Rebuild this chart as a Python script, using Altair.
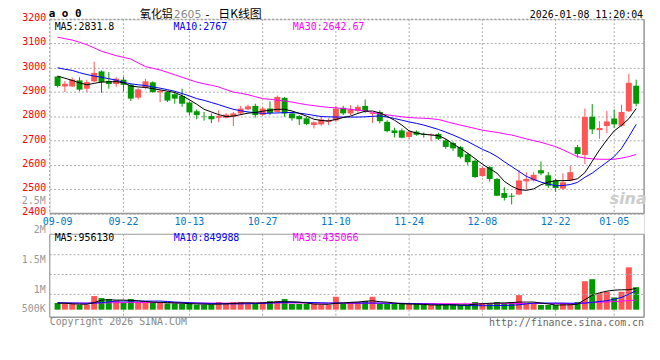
import altair as alt
import pandas as pd

dates = ["09-09","09-10","09-11","09-12","09-15","09-16","09-17","09-18","09-19","09-22","09-23","09-24","09-25","09-26","09-29","09-30",
         "10-09","10-10","10-13","10-14","10-15","10-16","10-17","10-20","10-21","10-22","10-23","10-24","10-27","10-28","10-29","10-30","10-31",
         "11-03","11-04","11-05","11-06","11-07","11-10","11-11","11-12","11-13","11-14","11-17","11-18","11-19","11-20","11-21","11-24","11-25","11-26","11-27","11-28",
         "12-01","12-02","12-03","12-04","12-05","12-08","12-09","12-10","12-11","12-12","12-15","12-16","12-17","12-18","12-19","12-22","12-23","12-24","12-25","12-26","12-29","12-30","12-31",
         "01-05","01-06","01-07","01-08"]

open_ = [2964, 2923, 2923, 2948, 2914, 2944, 2985, 2946, 2933, 2951,
         2930, 2877, 2918, 2940, 2899, 2900, 2891, 2884, 2857, 2821,
         2801, 2801, 2794, 2794, 2798, 2812, 2829, 2843, 2806, 2832,
         2818, 2876, 2812, 2801, 2792, 2764, 2767, 2777, 2783, 2835,
         2812, 2822, 2843, 2810, 2818, 2777, 2742, 2742, 2715, 2737,
         2728, 2723, 2727, 2701, 2690, 2673, 2644, 2617, 2554, 2591,
         2542, 2484, 2473, 2478, 2532, 2536, 2578, 2557, 2536, 2502,
         2536, 2673, 2641, 2798, 2743, 2760, 2791, 2761, 2821, 2926]
close = [2925, 2934, 2951, 2910, 2941, 2979, 2941, 2933, 2955, 2930,
         2873, 2911, 2944, 2900, 2905, 2865, 2873, 2852, 2816, 2805,
         2800, 2788, 2801, 2807, 2812, 2832, 2841, 2805, 2832, 2814,
         2880, 2812, 2792, 2788, 2768, 2775, 2787, 2783, 2832, 2812,
         2829, 2839, 2821, 2814, 2780, 2739, 2731, 2712, 2737, 2724,
         2723, 2726, 2707, 2674, 2668, 2633, 2611, 2550, 2587, 2542,
         2473, 2464, 2469, 2536, 2542, 2559, 2565, 2514, 2505, 2528,
         2570, 2645, 2797, 2746, 2752, 2779, 2767, 2818, 2938, 2852]
high = [2966, 2946, 2960, 2961, 2951, 3025, 2989, 2982, 2961, 2963,
        2934, 2916, 2955, 2944, 2908, 2904, 2900, 2914, 2862, 2829,
        2818, 2812, 2825, 2814, 2818, 2843, 2848, 2852, 2839, 2862,
        2886, 2880, 2818, 2805, 2798, 2780, 2798, 2791, 2843, 2843,
        2846, 2848, 2869, 2815, 2825, 2784, 2753, 2750, 2743, 2742,
        2734, 2730, 2732, 2707, 2696, 2678, 2650, 2622, 2593, 2596,
        2546, 2508, 2484, 2578, 2570, 2570, 2614, 2570, 2542, 2565,
        2595, 2682, 2832, 2851, 2780, 2822, 2828, 2848, 2975, 2951]
low = [2919, 2900, 2920, 2903, 2900, 2941, 2897, 2914, 2921, 2903,
       2863, 2869, 2911, 2897, 2858, 2859, 2852, 2839, 2805, 2788,
       2782, 2772, 2776, 2791, 2760, 2805, 2825, 2795, 2802, 2805,
       2816, 2798, 2782, 2764, 2764, 2750, 2761, 2764, 2777, 2805,
       2805, 2812, 2814, 2773, 2771, 2734, 2713, 2709, 2707, 2720,
       2712, 2698, 2702, 2666, 2657, 2626, 2600, 2546, 2551, 2531,
       2471, 2453, 2437, 2475, 2498, 2532, 2557, 2505, 2489, 2498,
       2532, 2630, 2603, 2727, 2707, 2730, 2753, 2757, 2818, 2841]

ma5 = [2966, 2957, 2948, 2938, 2930, 2936, 2941, 2942, 2943, 2938,
       2925, 2921, 2919, 2914, 2909, 2904, 2898, 2885, 2868, 2850,
       2829, 2818, 2807, 2799, 2801, 2807, 2813, 2816, 2821, 2825,
       2829, 2829, 2822, 2812, 2801, 2788, 2783, 2781, 2787, 2795,
       2801, 2812, 2821, 2822, 2814, 2800, 2784, 2764, 2740, 2731,
       2726, 2723, 2720, 2707, 2686, 2668, 2648, 2626, 2603, 2584,
       2566, 2532, 2512, 2498, 2495, 2501, 2518, 2529, 2535, 2535,
       2536, 2543, 2568, 2615, 2662, 2703, 2740, 2763, 2790, 2832]
ma10 = [3000, 2994, 2989, 2980, 2972, 2966, 2961, 2955, 2949, 2940,
        2934, 2930, 2927, 2921, 2916, 2910, 2903, 2894, 2884, 2873,
        2866, 2857, 2848, 2838, 2829, 2823, 2818, 2815, 2812, 2813,
        2814, 2815, 2816, 2813, 2809, 2804, 2799, 2798, 2797, 2797,
        2797, 2797, 2798, 2800, 2802, 2797, 2791, 2784, 2777, 2771,
        2764, 2755, 2746, 2735, 2723, 2710, 2696, 2680, 2664, 2651,
        2634, 2613, 2593, 2573, 2553, 2540, 2529, 2521, 2514, 2515,
        2519, 2528, 2549, 2566, 2589, 2611, 2634, 2668, 2716, 2767]
ma30 = [3126, 3120, 3114, 3105, 3095, 3082, 3068, 3059, 3050, 3043,
        3036, 3020, 3005, 2998, 2991, 2981, 2971, 2961, 2951, 2941,
        2934, 2928, 2921, 2910, 2900, 2895, 2889, 2881, 2873, 2870,
        2867, 2863, 2859, 2853, 2848, 2844, 2840, 2837, 2835, 2832,
        2829, 2826, 2822, 2816, 2810, 2806, 2802, 2798, 2795, 2793,
        2792, 2790, 2787, 2779, 2771, 2764, 2757, 2750, 2743, 2738,
        2734, 2728, 2723, 2715, 2707, 2700, 2693, 2684, 2675, 2662,
        2648, 2634, 2628, 2625, 2623, 2623, 2623, 2628, 2634, 2643]

volume = [300, 255, 255, 210, 225, 613, 523, 479, 404, 330,
          479, 330, 330, 330, 330, 285, 285, 255, 255, 225,
          225, 225, 344, 255, 344, 344, 255, 255, 344, 389,
          389, 479, 255, 255, 255, 255, 225, 210, 582, 255,
          344, 344, 389, 582, 255, 255, 255, 255, 255, 255,
          225, 210, 210, 225, 225, 210, 210, 344, 300, 255,
          344, 300, 344, 656, 255, 255, 210, 210, 210, 255,
          255, 344, 1284, 1374, 747, 807, 553, 807, 1910, 1015]
vma5 = [300, 290, 265, 245, 245, 320, 430, 450, 432, 430,
        420, 400, 370, 340, 330, 320, 305, 290, 275, 260,
        250, 240, 255, 265, 280, 300, 310, 300, 310, 320,
        358, 358, 358, 340, 300, 255, 245, 240, 290, 300,
        330, 345, 380, 400, 360, 340, 300, 265, 255, 250,
        235, 215, 210, 215, 220, 215, 220, 245, 265, 290,
        300, 305, 320, 343, 343, 343, 300, 260, 210, 215,
        220, 250, 450, 650, 760, 835, 880, 895, 900, 956]
vma10 = [310, 305, 300, 295, 290, 300, 320, 350, 388, 388,
         388, 388, 388, 388, 388, 370, 345, 330, 315, 300,
         290, 280, 270, 265, 260, 262, 268, 275, 285, 300,
         320, 330, 330, 330, 325, 320, 310, 300, 300, 300,
         300, 300, 300, 300, 298, 295, 290, 285, 275, 268,
         260, 250, 240, 230, 220, 200, 185, 180, 180, 180,
         185, 190, 200, 220, 260, 298, 298, 298, 298, 298,
         290, 290, 298, 330, 370, 403, 470, 552, 700, 850]
vma30 = [300, 300, 300, 298, 298, 300, 305, 310, 315, 318,
         320, 322, 322, 320, 318, 315, 312, 310, 305, 300,
         298, 296, 295, 294, 294, 295, 296, 296, 297, 298,
         300, 300, 300, 300, 298, 296, 294, 292, 292, 292,
         292, 290, 290, 290, 288, 286, 284, 282, 280, 278,
         276, 274, 272, 270, 268, 266, 264, 264, 266, 268,
         270, 272, 274, 276, 278, 280, 280, 280, 280, 280,
         280, 282, 300, 320, 335, 350, 365, 385, 410, 435]

price_ticks = [2400, 2500, 2600, 2700, 2800, 2900, 3000, 3100, 3200]
date_ticks = ["09-22", "10-13", "10-27", "11-10", "11-24", "12-08", "12-22", "01-05"]
date_labels = ["09-09"] + date_ticks
vol_labels = ["2.5M", "2M", "1.5M", "1M", "500K"]

n = len(dates)
df = pd.DataFrame({
    "i": list(range(n)), "date": dates, "open": open_, "close": close,
    "high": high, "low": low, "ma5": ma5, "ma10": ma10, "ma30": ma30,
    "vol": [v * 1000 for v in volume], "vma5": [v * 1000 for v in vma5],
    "vma10": [v * 1000 for v in vma10], "vma30": [v * 1000 for v in vma30],
})
grid_df = pd.DataFrame({"i": [dates.index(d) for d in date_ticks]})
lab_df = pd.DataFrame({"i": [dates.index(d) for d in date_labels], "label": date_labels})

RED = "#FF5555"
GREEN = "#009900"
MONO = "DejaVu Sans Mono"
CJK = "Noto Sans CJK SC"
GRID = "#aaaaaa"
FRAME = "#999999"

W, H = 599, 300
MAIN_B = 195.7
VOL_T, VOL_B = 216.7, 300.3

xs = alt.Scale(domain=[-0.4, 79.4], nice=False, zero=False)
ps = alt.Scale(domain=[2400, 3200], range=[MAIN_B, 0], nice=False, zero=False)
vs = alt.Scale(domain=[0, 3400000], range=[292.7, VOL_T], nice=False, zero=False)
X = alt.X("i:Q", scale=xs, axis=None)
updown = alt.condition("datum.close >= datum.open", alt.value(RED), alt.value(GREEN))

price_axis = alt.Axis(values=price_ticks, tickCount=9, format="d", labelColor="#FF0000", labelFont=MONO,
                      labelFontSize=10, grid=True, gridDash=[2, 2], gridColor=GRID,
                      domain=False, ticks=False, labelPadding=4, title=None, labelOffset=-1.5,
                      labelOverlap=False, labelFlush=False, labelBaseline="middle")


def PY(field):
    return alt.Y(field, type="quantitative", scale=ps, axis=price_axis)


one = alt.Data(values=[{}])


def txt(s, x, y, color="black", size=10, align="left", font=MONO, weight="normal", style="normal",
        baseline="middle"):
    return alt.Chart(one).mark_text(text=s, align=align, baseline=baseline, font=font,
                                    fontSize=size, color=color, fontWeight=weight,
                                    fontStyle=style).encode(x=alt.value(x), y=alt.value(y))


def hrule(y, x0=0, x1=W, color=GRID, dash=None, width=1):
    kw = dict(color=color, strokeWidth=width)
    if dash:
        kw["strokeDash"] = dash
    return alt.Chart(one).mark_rule(**kw).encode(x=alt.value(x0), x2=alt.value(x1), y=alt.value(y))


def vrule(x, y0, y1, color=GRID, dash=None, width=1):
    kw = dict(color=color, strokeWidth=width)
    if dash:
        kw["strokeDash"] = dash
    return alt.Chart(one).mark_rule(**kw).encode(x=alt.value(x), y=alt.value(y0), y2=alt.value(y1))


base = alt.Chart(df).encode(x=X)

vgrid_main = alt.Chart(grid_df).mark_rule(color=GRID, strokeDash=[2, 2]).encode(
    x=X, y=alt.value(0), y2=alt.value(MAIN_B))
vgrid_vol = alt.Chart(grid_df).mark_rule(color=GRID, strokeDash=[2, 2]).encode(
    x=X, y=alt.value(VOL_T), y2=alt.value(VOL_B))

wick = base.mark_rule(strokeWidth=1).encode(y=PY("low"), y2="high:Q", color=updown)
body = base.mark_bar(size=6).encode(y=PY("open"), y2="close:Q", color=updown)
l5 = base.mark_line(color="black", strokeWidth=1).encode(y=PY("ma5"))
l10 = base.mark_line(color="#0000FF", strokeWidth=1).encode(y=PY("ma10"))
l30 = base.mark_line(color="#FF00FF", strokeWidth=1).encode(y=PY("ma30"))
price = alt.layer(wick, body, l30, l10, l5)

vbars = base.mark_bar(size=6).encode(y=alt.Y("vol:Q", scale=vs, axis=None), y2=alt.datum(0), color=updown)
v5 = base.mark_line(color="black", strokeWidth=1).encode(y=alt.Y("vma5:Q", scale=vs, axis=None))
v10 = base.mark_line(color="#0000FF", strokeWidth=1).encode(y=alt.Y("vma10:Q", scale=vs, axis=None))
v30 = base.mark_line(color="#FF00FF", strokeWidth=1).encode(y=alt.Y("vma30:Q", scale=vs, axis=None))
vol = alt.layer(vbars, v30, v10, v5)

date_text = alt.Chart(lab_df).mark_text(font=MONO, fontSize=10, color="#0077CC", baseline="middle").encode(
    x=X, y=alt.value(204), text="label:N")

deco = [
    vrule(0, 0, MAIN_B, color=FRAME, dash=[2, 2]),
    hrule(0, color=FRAME, dash=[2, 2]),
    hrule(MAIN_B, color=FRAME, width=1.5),
    vrule(W, 0, MAIN_B, color=FRAME, width=1.5),
    hrule(237.3, dash=[2, 2]), hrule(257.3, dash=[2, 2]), hrule(277.3, dash=[2, 2]),
    hrule(VOL_T, color=FRAME), hrule(VOL_B, color=FRAME, width=1.5),
    vrule(0, VOL_T, VOL_B, color=FRAME), vrule(W, VOL_T, VOL_B, color=FRAME, width=1.5),
]

texts = [
    txt("MA5:2831.8", 5, 7.5, "black"),
    txt("MA10:2767", 124.7, 7.5, "#0000FF"),
    txt("MA30:2642.67", 245, 7.5, "#FF00FF"),
    txt("MA5:956130", 5, 220.3, "black"),
    txt("MA10:849988", 125, 220.3, "#0000FF"),
    txt("MA30:435066", 245, 220.3, "#FF00FF"),
    txt(vol_labels[0], -4, 183, "#999999", align="right"),
    txt(vol_labels[1], -4, 212, "#999999", align="right"),
    txt(vol_labels[2], -4, 243, "#999999", align="right"),
    txt(vol_labels[3], -4, 273, "#999999", align="right"),
    txt(vol_labels[4], -4, 292, "#999999", align="right"),
    txt("a o 0", -1, -2.5, "black", size=11, weight="bold", baseline="alphabetic"),
    txt("氧化铝", 91, -1, "black", size=11, font=CJK, baseline="alphabetic"),
    txt("2605", 125, -1, "#888888", size=11, font="DejaVu Sans", baseline="alphabetic"),
    txt("-", 157, -1, "black", size=11, font="DejaVu Sans", baseline="alphabetic"),
    txt("日K线图", 170, -1, "black", size=12, font=CJK, baseline="alphabetic"),
    txt("2026-01-08 11:20:04", 598, -1.5, "black", size=10, align="right", baseline="alphabetic"),
    txt("Copyright 2026 SINA.COM", 0, 305, "#888888"),
    txt("http://finance.sina.com.cn", 599, 306, "#666666", align="right"),
    txt("sina", 583, 181, "#cccccc", size=16, font="DejaVu Sans", weight="bold", style="italic", align="center"),
]

chart = alt.layer(
    vgrid_main, vgrid_vol,
    alt.layer(price, vol).resolve_scale(y="independent"),
    date_text, *deco, *texts,
).properties(
    width=W, height=H,
    autosize=alt.AutoSizeParams(type="none"),
    padding={"left": 42, "top": 10, "right": 8, "bottom": 30},
).configure_view(strokeWidth=0).configure(background="white")

chart.save("out.html", embed_options={"renderer": "svg", "actions": False})
